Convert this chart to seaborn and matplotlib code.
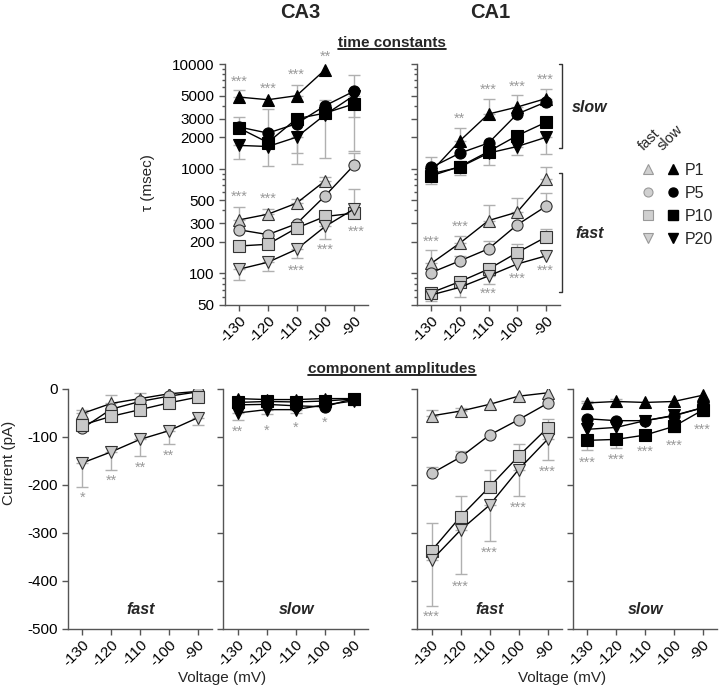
import numpy as np
import pandas as pd
import matplotlib
matplotlib.use("Agg")
import matplotlib.pyplot as plt
import matplotlib.transforms as mtransforms
import seaborn as sns
from matplotlib.lines import Line2D
from matplotlib.legend_handler import HandlerTuple
from matplotlib.ticker import FixedLocator, FixedFormatter, NullFormatter

nan = np.nan

# ---- data ------------------------------------------------------------------------------------
voltages = [-130, -120, -110, -100, -90]
ages = ["P1", "P5", "P10", "P20"]

# time constants (msec)
ca3_tau_fast = {"P1": [325, 368, 469, 767, nan], "P5": [261, 235, 298, 551, 1075],
                "P10": [183, 190, 271, 350, 376], "P20": [110, 128, 170, 281, 411]}
ca3_tau_slow = {"P1": [4830, 4560, 4980, 8830, nan], "P5": [2500, 2190, 2690, 4000, 5480],
                "P10": [2440, 1780, 3000, 3400, 4150], "P20": [1670, 1630, 2000, 3280, 4980]}
ca1_tau_fast = {"P1": [125, 195, 320, 385, 796], "P5": [102, 132, 172, 291, 436],
                "P10": [65.6, 83.6, 110, 158, 222], "P20": [62.4, 73.8, 94.7, 123, 147]}
ca1_tau_slow = {"P1": [940, 1850, 3330, 3880, 4670], "P5": [1030, 1410, 1760, 3330, 4330],
                "P10": [855, 1050, 1460, 2070, 2770], "P20": [894, 1036, 1410, 1630, 1990]}

# component amplitudes (pA)
ca3_amp_fast = {"P1": [-51, -30, -20, -10, -5], "P5": [-82, -42, -26, -15, -6],
                "P10": [-75, -57, -43, -29, -17], "P20": [-154, -131, -105, -87, -60]}
ca3_amp_slow = {"P1": [-20, -22, -22, -20, -20], "P5": [-33, -32, -35, -37, -20],
                "P10": [-28, -26, -27, -25, -21], "P20": [-50, -43, -43, -33, -25]}
ca1_amp_fast = {"P1": [-56, -46, -32, -15, -8], "P5": [-176, -142, -96, -64, -30],
                "P10": [-337, -266, -204, -140, -81], "P20": [-357, -294, -242, -168, -105]}
ca1_amp_slow = {"P1": [-29, -26, -28, -26, -13], "P5": [-62, -66, -66, -56, -39],
                "P10": [-107, -105, -96, -78, -44], "P20": [-84, -80, -66, -55, -39]}

# error bars: positive = drawn upward, negative = drawn downward
ca3_tau_fast_err = {"P1": [110, 43, 47, 65, 0], "P5": [0, 0, 0, 0, 335],
                    "P10": [0, 0, 0, 0, 0], "P20": [-23, -22, -28, -67, 230]}
ca3_tau_slow_err = {"P1": [800, 0, 1300, 0, 0], "P5": [650, 1500, 0, 550, 2400],
                    "P10": [0, 0, -1600, 0, -1000], "P20": [-430, -560, -880, -2000, -3500]}
ca1_tau_fast_err = {"P1": [43, 35, 132, 138, 240], "P5": [0, 15, 34, 0, 157],
                    "P10": [0, 0, 0, 34, 46], "P20": [-8, -14, -16, 0, 0]}
ca1_tau_slow_err = {"P1": [0, 590, 1340, 1130, 1140], "P5": [260, 0, 0, 0, 0],
                    "P10": [0, 0, 0, 0, 0], "P20": [-180, -170, -320, -270, -610]}
ca3_amp_fast_err = {"P1": [8, 17, 12, 0, 0], "P5": [0, 0, 0, 0, 0],
                    "P10": [0, 0, 0, 0, 0], "P20": [-51, -38, -35, -28, -15]}
ca3_amp_slow_err = {"P1": [0, 0, 0, 0, 0], "P5": [0, 0, 0, 0, 0],
                    "P10": [0, 0, 0, 0, 0], "P20": [-15, -10, -8, 0, 0]}
ca1_amp_fast_err = {"P1": [12, 7, 0, 0, 0], "P5": [14, 12, 0, 0, 0],
                    "P10": [57, 43, 35, 26, 18], "P20": [-95, -92, -74, -55, -42]}
ca1_amp_slow_err = {"P1": [5, 5, 0, 0, 0], "P5": [0, 0, 0, 0, 0],
                    "P10": [-20, -17, -11, -11, -12], "P20": [0, 0, 0, 0, 0]}

# significance marks (x, y, text)
ca3_tau_stars = [(-130, 7240, "***"), (-120, 6110, "***"), (-110, 8320, "***"), (-100, 12470, "**"),
                 (-130, 575, "***"), (-120, 551, "***"), (-110, 114, "***"), (-100, 178, "***"),
                 (-89, 265, "***")]
ca1_tau_stars = [(-120, 3160, "**"), (-110, 6030, "***"), (-100, 6440, "***"), (-90, 7510, "***"),
                 (-130, 215, "***"), (-120, 298, "***"), (-110, 68, "***"), (-100, 94, "***"),
                 (-90, 112, "***")]
ca3_fast_stars = [(-130, -221, "*"), (-120, -186, "**"), (-110, -159, "**"), (-100, -133, "**")]
ca3_slow_stars = [(-130, -84, "**"), (-120, -81, "*"), (-110, -74, "*"), (-100, -65, "*")]
ca1_fast_stars = [(-130, -468, "***"), (-120, -406, "***"), (-110, -335, "***"),
                  (-100, -241, "***"), (-90, -166, "***")]
ca1_slow_stars = [(-130, -147, "***"), (-120, -142, "***"), (-110, -125, "***"),
                  (-100, -112, "***"), (-90, -79, "***")]

xtick_labels = ["-130", "-120", "-110", "-100", "-90"]
tau_ticks = [50, 100, 200, 300, 500, 1000, 2000, 3000, 5000, 10000]
tau_minor = [60, 70, 80, 90, 400, 600, 700, 800, 900, 4000, 6000, 7000, 8000, 9000]
amp_ticks = [-500, -400, -300, -200, -100, 0]

# ---- style -------------------------------------------------------------------------------------
sns.set_theme(style="ticks")
plt.rcParams["font.family"] = ["Liberation Sans", "DejaVu Sans"]
plt.rcParams["axes.unicode_minus"] = False

AX_COL = "#555555"
GRAY_FACE = "#c8c8c8"
GRAY_EDGE = "#333333"
ERR_COL = "#b0b0b0"
STAR_COL = "#9a9a9a"
markers = {"P1": "^", "P5": "o", "P10": "s", "P20": "v"}

W, H = 720, 688
fig = plt.figure(figsize=(W / 100, H / 100), dpi=100)


def rect(left, top, width, height):
    return [left / W, 1 - (top + height) / H, width / W, height / H]


def fx(px):
    return px / W


def fy(py):
    return 1 - py / H


def to_long(values):
    rows = []
    for age in ages:
        for v, y in zip(voltages, values[age]):
            rows.append({"voltage": v, "value": y, "age": age})
    return pd.DataFrame(rows).dropna()


def draw_series(ax, values, errs, fast):
    face = GRAY_FACE if fast else "black"
    edge = GRAY_EDGE if fast else "black"
    # error bars first, so markers cover them
    for age in ages:
        y = np.array(values[age], dtype=float)
        e = np.array(errs[age], dtype=float)
        lower = np.where(e < 0, -e, 0)
        upper = np.where(e > 0, e, 0)
        keep = (e != 0) & ~np.isnan(y)
        if keep.any():
            ax.errorbar(np.array(voltages)[keep], y[keep], yerr=[lower[keep], upper[keep]],
                        fmt="none", ecolor=ERR_COL, elinewidth=1, capsize=4, capthick=1, zorder=1)
    sns.lineplot(data=to_long(values), x="voltage", y="value", style="age", style_order=ages,
                 markers=markers, dashes=False, color="black", linewidth=1, markersize=8,
                 markerfacecolor=face, markeredgecolor=edge, markeredgewidth=0.8,
                 legend=False, errorbar=None, ax=ax, zorder=3)


def draw_stars(ax, stars):
    # asterisks sit high in the glyph box, nudge them down a little
    trans = mtransforms.offset_copy(ax.transData, fig=fig, x=0, y=-2, units="points")
    for x, y, s in stars:
        ax.text(x, y, s, ha="center", va="center", color=STAR_COL, fontsize=10.5,
                clip_on=False, transform=trans)


def style_axes(ax, show_y):
    sns.despine(ax=ax)
    for sp in ("left", "bottom"):
        ax.spines[sp].set_color(AX_COL)
        ax.spines[sp].set_linewidth(1)
    ax.set_xlim(-135, -85)
    ax.set_xticks(voltages)
    ax.set_xticklabels(xtick_labels, rotation=45, ha="right", rotation_mode="anchor")
    ax.tick_params(axis="both", which="both", colors=AX_COL, labelcolor="black", labelsize=11,
                   direction="out", width=1)
    ax.tick_params(axis="both", which="major", length=4)
    ax.tick_params(axis="y", which="minor", length=2.5)
    ax.tick_params(axis="x", pad=2)
    if not show_y:
        ax.tick_params(axis="y", which="both", labelleft=False)
    ax.set_xlabel("")
    ax.set_ylabel("")


# ---- time constants ------------------------------------------------------------------------
tau_axes = []
for left, fast_vals, slow_vals, fast_err, slow_err, stars in [
        (225, ca3_tau_fast, ca3_tau_slow, ca3_tau_fast_err, ca3_tau_slow_err, ca3_tau_stars),
        (417, ca1_tau_fast, ca1_tau_slow, ca1_tau_fast_err, ca1_tau_slow_err, ca1_tau_stars)]:
    ax = fig.add_axes(rect(left, 64, 143, 241))
    ax.set_yscale("log")
    draw_series(ax, slow_vals, slow_err, fast=False)
    draw_series(ax, fast_vals, fast_err, fast=True)
    draw_stars(ax, stars)
    ax.set_ylim(50, 10000)
    ax.yaxis.set_major_locator(FixedLocator(tau_ticks))
    ax.yaxis.set_major_formatter(FixedFormatter([str(t) for t in tau_ticks]))
    ax.yaxis.set_minor_locator(FixedLocator(tau_minor))
    ax.yaxis.set_minor_formatter(NullFormatter())
    style_axes(ax, show_y=(left == 225))
    tau_axes.append(ax)

# brackets for slow / fast in CA1 panel
ax = tau_axes[1]
trans = mtransforms.blended_transform_factory(ax.transAxes, ax.transData)
for top, bottom in [(10000, 1580), (910, 66)]:
    ax.plot([0.995, 1.015, 1.015, 0.995], [top, top, bottom, bottom], color="#333333", lw=1,
            transform=trans, clip_on=False)
fig.text(fx(590), fy(107), "slow", ha="center", va="center", fontsize=11.5,
         fontweight="bold", style="italic")
fig.text(fx(590), fy(233), "fast", ha="center", va="center", fontsize=11.5,
         fontweight="bold", style="italic")

fig.text(fx(148), fy(183), "τ (msec)", rotation=90, ha="center", va="center", fontsize=11)

# ---- component amplitudes -----------------------------------------------------------------
amp_panels = [(68, 144, ca3_amp_fast, ca3_amp_fast_err, ca3_fast_stars, True, "fast", 141),
              (223, 145, ca3_amp_slow, ca3_amp_slow_err, ca3_slow_stars, False, "slow", 297),
              (417, 145, ca1_amp_fast, ca1_amp_fast_err, ca1_fast_stars, True, "fast", 490),
              (573, 144, ca1_amp_slow, ca1_amp_slow_err, ca1_slow_stars, False, "slow", 646)]
for left, width, vals, errs, stars, fast, label, lx in amp_panels:
    ax = fig.add_axes(rect(left, 389, width, 240))
    draw_series(ax, vals, errs, fast=fast)
    draw_stars(ax, stars)
    ax.set_ylim(-500, 0)
    ax.set_yticks(amp_ticks)
    ax.set_yticklabels([str(t) for t in amp_ticks])
    style_axes(ax, show_y=(left == 68))
    fig.text(fx(lx), fy(609), label, ha="center", va="center", fontsize=11.5,
             fontweight="bold", style="italic")

fig.text(fx(9), fy(463), "Current (pA)", rotation=90, ha="center", va="center", fontsize=11)
fig.text(fx(222), fy(678), "Voltage (mV)", ha="center", va="center", fontsize=11)
fig.text(fx(562), fy(678), "Voltage (mV)", ha="center", va="center", fontsize=11)

# ---- headings ------------------------------------------------------------------------------
fig.text(fx(300), fy(13), "CA3", ha="center", va="center", fontsize=14.5, fontweight="bold")
fig.text(fx(490), fy(13), "CA1", ha="center", va="center", fontsize=14.5, fontweight="bold")
headings = [fig.text(fx(392), fy(43), "time constants", ha="center", va="center",
                     fontsize=11, fontweight="bold"),
            fig.text(fx(392), fy(369), "component amplitudes", ha="center", va="center",
                     fontsize=11, fontweight="bold")]

# ---- legend --------------------------------------------------------------------------------
handles = []
for age in ages:
    g = Line2D([], [], linestyle="none", marker=markers[age], markersize=6.5,
               markerfacecolor="#d0d0d0", markeredgecolor="#999999", markeredgewidth=0.8)
    b = Line2D([], [], linestyle="none", marker=markers[age], markersize=6.5,
               markerfacecolor="black", markeredgecolor="black")
    handles.append((g, b))
fig.legend(handles, ages, handler_map={tuple: HandlerTuple(ndivide=None, pad=0.78)},
           loc="upper left", bbox_to_anchor=(fx(642), fy(163)), frameon=False,
           borderpad=0, borderaxespad=0, handlelength=2.35, handletextpad=0.3,
           labelspacing=0.5, fontsize=11.5)
fig.text(fx(644), fy(151), "fast", rotation=45, rotation_mode="anchor", ha="left",
         va="baseline", fontsize=10.5)
fig.text(fx(663), fy(151), "slow", rotation=45, rotation_mode="anchor", ha="left",
         va="baseline", fontsize=10.5)

# underline the section headings
fig.canvas.draw()
renderer = fig.canvas.get_renderer()
for t in headings:
    bb = t.get_window_extent(renderer).transformed(fig.transFigure.inverted())
    fig.add_artist(Line2D([bb.x0, bb.x1], [bb.y0 + 0.001, bb.y0 + 0.001], color="black",
                          lw=1.2, transform=fig.transFigure))

fig.savefig("out.png", dpi=100)
